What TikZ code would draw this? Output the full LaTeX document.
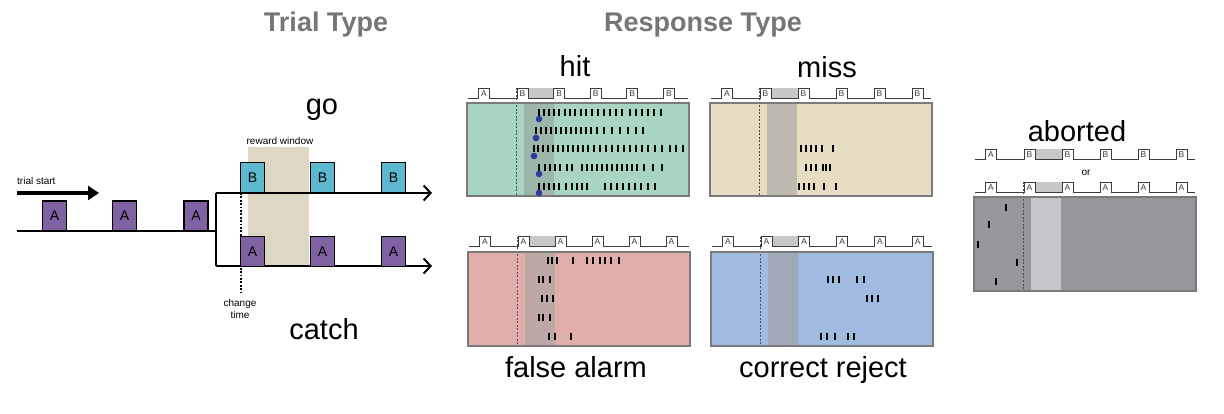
\documentclass[tikz,border=0pt]{standalone}
\usepackage{fontspec}
\setmainfont{Liberation Sans}
\usetikzlibrary{arrows.meta}
\definecolor{purp}{HTML}{7F62A1}
\definecolor{bluec}{HTML}{5BB8CF}
\definecolor{rewc}{HTML}{DDD8C3}
\definecolor{titlec}{HTML}{767676}
\definecolor{hitfill}{HTML}{A8D5BF}
\definecolor{hitwin}{HTML}{9DB6AA}
\definecolor{missfill}{HTML}{E6DDC2}
\definecolor{misswin}{HTML}{BEBAB0}
\definecolor{fafill}{HTML}{E1AFAB}
\definecolor{fawin}{HTML}{BDA8A6}
\definecolor{crfill}{HTML}{A1BADF}
\definecolor{crwin}{HTML}{A0A9B8}
\definecolor{abfill}{HTML}{96979B}
\definecolor{abwin}{HTML}{C5C6C9}
\definecolor{grayblk}{HTML}{C8C8CA}
\definecolor{dotc}{HTML}{2E3A9C}
\definecolor{pbordc}{HTML}{7A7A7A}
\definecolor{trcc}{HTML}{3C3C3C}
\newcommand\spc{37}
% x0, baseline y, first label, other label, name prefix
\newcommand\rtrace[5]{%
  \fill[grayblk] (#1+11,#2-9.5) rectangle (#1+\spc,#2);
  \draw[trc] (#1-49,#2) -- (#1-38.5,#2) -- ++(0,-9.5) -- ++(11,0) -- ++(0,9.5)
    foreach \k in {0,...,4}{ -- (#1+\k*\spc,#2) -- ++(0,-9.5) -- ++(11,0) -- ++(0,9.5)} -- (#1+171,#2);
  \node[plab] (#5a) at (#1-33,#2-4.5) {#3};
  \foreach \k in {0,...,4} \node[plab] (#5b\k) at (#1+\k*\spc+5.5,#2-4.5) {#4};
}
% x0, ytop, ybot, fill, winfill, dash top
\newcommand\rpanel[6]{%
  \fill[#4] (#1-50,#2) rectangle (#1+172,#3);
  \fill[#5] (#1+7,#2) rectangle (#1+37,#3);
  \draw[dsh] (#1-0.5,#6) -- (#1-0.5,#3);
  \draw[pbord] (#1-50,#2) rectangle (#1+172,#3);
}
\newcommand\spikes[2]{\foreach \x in {#2} \draw[tick] (\x,#1-3.5) -- (\x,#1+3.5);}
\begin{document}
\begin{tikzpicture}[x=1pt,y=-1pt,
  title/.style={font=\fontsize{27}{27}\selectfont\bfseries, text=titlec, inner sep=0, anchor=base},
  big/.style={font=\fontsize{29}{29}\selectfont, inner sep=0, anchor=base},
  small/.style={font=\fontsize{10}{12}\selectfont, inner sep=0},
  abox/.style={draw=black, line width=1.5, fill=purp, minimum width=24, minimum height=30, inner sep=0, font=\fontsize{14}{14}\selectfont},
  bbox/.style={abox, fill=bluec},
  tl/.style={line width=2, black},
  openarrow/.style={-{Straight Barb[length=7,width=15]}},
  trc/.style={line width=0.9, trcc},
  plab/.style={font=\fontsize{8.5}{8.5}\selectfont, inner sep=0, text=trcc},
  dsh/.style={line width=0.6, dash pattern=on 2 off 1.5, black!70},
  pbord/.style={line width=1.2, pbordc},
  tick/.style={line width=1.5, black}
]
\useasboundingbox (0,0) rectangle (1224,414);
\fill[white] (0,0) rectangle (1224,414);

% ---------------- titles
\node[title] (tt) at (326,32) {Trial Type};
\node[title] (rt) at (703,32) {Response Type};

% ---------------- trial type panel
\fill[rewc] (248,147) rectangle (309,265);
\coordinate (s) at (17,231);
\coordinate (br) at (217,231);
\coordinate (bt) at (216,193);
\coordinate (bb) at (216,266);
\coordinate (et) at (432,193);
\coordinate (eb) at (432,266);
\draw[tl] (s) -- (br);
\draw[tl] (bt) -- (bb);
\draw[tl,openarrow] (bt) -- (et);
\draw[tl,openarrow] (bb) -- (eb);
\coordinate (dt) at (241,193);
\coordinate (db) at (241,293);
\draw[line width=1.8, dash pattern=on 1.8 off 1.6] (dt) -- (db);
\node[abox] (a1) at (54.5,216) {A};
\node[abox] (a2) at (124.5,216) {A};
\node[abox] (a3) at (196,216) {A};
\node[bbox] (b1) at (252.5,177.5) {B};
\node[bbox] (b2) at (322.5,177.5) {B};
\node[bbox] (b3) at (393.5,177.5) {B};
\node[abox] (c1) at (252.5,251.5) {A};
\node[abox] (c2) at (322.5,251.5) {A};
\node[abox] (c3) at (393.5,251.5) {A};
\coordinate (ts0) at (17,193);
\coordinate (ts1) at (99,193);
\draw[line width=4, -{Triangle[length=11,width=14]}] (ts0) -- (ts1);
\node[small, anchor=base west] (tst) at (17,185) {trial start};
\node[small, anchor=base] (rw) at (280,145) {reward window};
\node[small, anchor=north, align=center] (ct) at (240,299) {change\\time};
\node[big] (go) at (322,115) {go};
\node[big] (catch) at (324,339) {catch};

% ---------------- hit
\renewcommand\spc{36.6}
\rpanel{517}{103}{196}{hitfill}{hitwin}{88}
\rtrace{517}{98}{A}{B}{h}
\spikes{113}{539,544,549,554,559,565,570,575,581,586,592,598,604,610,616,622,630,636,642,648,654,661}
\spikes{131}{536,541,546,551,556,561,566,571,576,581,586,591,597,604,612,620,628,636,643}
\spikes{149}{534,538,543,548,553,558,563,568,573,578,583,588,594,600,606,612,618,624,630,636,642,648,655,662,670,676,683}
\spikes{168}{539,545,550,555,560,567,572,582,587,592,597,602,607,612,617,622,627,632,637,644,653,662}
\spikes{187}{539,544,549,554,559,566,572,577,582,587,605,611,617,623,629,635,641,648,655}
\foreach \px/\py in {539/119,536/138,534/156,539/174,539/193} \fill[dotc] (\px,\py) circle (3.3);
\node[big] (hit) at (575,77) {hit};

% ---------------- miss
\renewcommand\spc{38}
\rpanel{760}{103}{196}{missfill}{misswin}{88}
\rtrace{760}{98}{A}{B}{m}
\spikes{149}{801,806,811,816,822,833}
\spikes{168}{806,811,816,823,826,830}
\spikes{187}{799,804,809,814,824,836}
\node[big] (miss) at (827,78) {miss};

% ---------------- false alarm
\renewcommand\spc{37}
\rpanel{518}{252}{346}{fafill}{fawin}{237}
\rtrace{518}{246}{A}{A}{f}
\spikes{261}{548,552,557,573,587,593,600,605,611,619}
\spikes{280}{539,543,550}
\spikes{298}{542,547,553}
\spikes{317}{539,543,550}
\spikes{336}{549,555,571}
\node[big] (fa) at (576,377) {false alarm};

% ---------------- correct reject
\renewcommand\spc{37.8}
\rpanel{761}{252}{346}{crfill}{crwin}{237}
\rtrace{761}{246}{A}{A}{c}
\spikes{280}{828,833,839,857,864}
\spikes{298}{867,872,878}
\spikes{336}{821,827,835,848,854}
\node[big] (cr) at (823,377) {correct reject};

% ---------------- aborted
\renewcommand\spc{38}
\rpanel{1024}{197}{291}{abfill}{abwin}{182}
\rtrace{1024}{159}{A}{B}{p}
\rtrace{1024}{192}{A}{A}{q}
\foreach \px/\py in {1006/208,989/225,978/245,1017/263,996/282} \draw[tick] (\px,\py-3.5) -- (\px,\py+3.5);
\node[small] (or) at (1086,173) {or};
\node[big] (ab) at (1077,142) {aborted};
\end{tikzpicture}
\end{document}
